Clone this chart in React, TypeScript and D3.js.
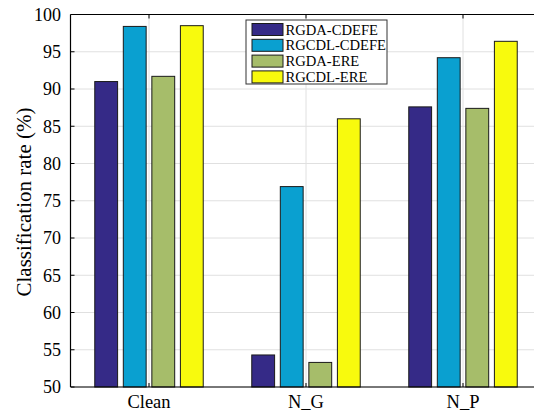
import React from "react";
import * as d3 from "d3";

const categories = ["Clean", "N_G", "N_P"];
const seriesNames = ["RGDA-CDEFE", "RGCDL-CDEFE", "RGDA-ERE", "RGCDL-ERE"];
const seriesColors = ["#352a87", "#0aa0d0", "#a6bd6a", "#f8fa0d"];
const rgdaCdefe = [91.0, 54.3, 87.6];
const rgcdlCdefe = [98.4, 76.9, 94.2];
const rgdaEre = [91.7, 53.3, 87.4];
const rgcdlEre = [98.5, 86.0, 96.4];
const yTicks = [50, 55, 60, 65, 70, 75, 80, 85, 90, 95, 100];

const series = [rgdaCdefe, rgcdlCdefe, rgdaEre, rgcdlEre];

const W = 534;
const H = 415;
const plot = { left: 70.5, right: 541.5, top: 14.5, bottom: 387 };
const font = "'Liberation Serif', 'Times New Roman', serif";

export default function App() {
  // categories sit at 1..n on a continuous axis spanning [0.5, n + 0.5]
  const x = d3.scaleLinear().domain([0.5, categories.length + 0.5]).range([plot.left, plot.right]);
  const y = d3.scaleLinear().domain([50, 100]).range([plot.bottom, plot.top]);

  const nSeries = series.length;
  const groupWidth = Math.min(0.8, nSeries / (nSeries + 1.5));
  const step = groupWidth / nSeries;
  const barWidth = step * 0.8;

  const legend = { x: 246, y: 20, w: 141, h: 64 };

  return (
    <svg
      width={W}
      height={H}
      style={{ position: "absolute", left: 0, top: 0, background: "#fff" }}
      fontFamily={font}
    >
      <defs>
        <clipPath id="plotClip">
          <rect x={plot.left} y={plot.top - 1} width={W - plot.left} height={plot.bottom - plot.top + 2} />
        </clipPath>
      </defs>
      <g clipPath="url(#plotClip)">
        {yTicks.map((t) => (
          <line key={"gy" + t} x1={plot.left} x2={plot.right} y1={y(t)} y2={y(t)} stroke="#e0e0e0" strokeWidth={1} />
        ))}
        {categories.map((c, i) => (
          <line key={"gx" + c} x1={x(i + 1)} x2={x(i + 1)} y1={plot.top} y2={plot.bottom} stroke="#e0e0e0" strokeWidth={1} />
        ))}
        {series.map((vals, s) =>
          vals.map((v, i) => {
            const cx = i + 1 - groupWidth / 2 + step * (s + 0.5);
            const x0 = x(cx - barWidth / 2);
            const x1 = x(cx + barWidth / 2);
            return (
              <rect
                key={`b${s}-${i}`}
                x={x0}
                y={y(v)}
                width={x1 - x0}
                height={y(50) - y(v)}
                fill={seriesColors[s]}
                stroke="#1a1a1a"
                strokeWidth={1}
              />
            );
          })
        )}
        {yTicks.map((t) => (
          <line key={"ty" + t} x1={plot.left} x2={plot.left + 4} y1={y(t)} y2={y(t)} stroke="#000" />
        ))}
        {categories.map((c, i) => (
          <g key={"tx" + c}>
            <line x1={x(i + 1)} x2={x(i + 1)} y1={plot.bottom} y2={plot.bottom - 4} stroke="#000" />
            <line x1={x(i + 1)} x2={x(i + 1)} y1={plot.top} y2={plot.top + 4} stroke="#000" />
          </g>
        ))}
      </g>
      {/* axes frame */}
      <line x1={plot.left} x2={W} y1={plot.top} y2={plot.top} stroke="#000" strokeWidth={1.2} />
      <line x1={plot.left} x2={W} y1={plot.bottom} y2={plot.bottom} stroke="#000" strokeWidth={1.2} />
      <line x1={plot.left} x2={plot.left} y1={plot.top} y2={plot.bottom} stroke="#000" strokeWidth={1.2} />

      {yTicks.map((t) => (
        <text key={"ly" + t} x={plot.left - 9.5} y={y(t)} dy="0.35em" textAnchor="end" fontSize={18} fill="#000">
          {t}
        </text>
      ))}
      {categories.map((c, i) => (
        <text key={"lx" + c} x={x(i + 1)} y={plot.bottom + 21} textAnchor="middle" fontSize={18.5} fill="#000">
          {c}
        </text>
      ))}
      <text
        transform={`translate(${31},${202}) rotate(-90)`}
        textAnchor="middle"
        fontSize={21}
        fill="#000"
      >
        Classification rate (%)
      </text>

      <g>
        <rect x={legend.x} y={legend.y} width={legend.w} height={legend.h} fill="#fff" stroke="#333" strokeWidth={1} />
        {seriesNames.map((n, s) => {
          const cy = legend.y + 9.5 + s * 15.8;
          return (
            <g key={"lg" + n}>
              <rect x={legend.x + 6} y={cy - 6} width={31} height={12} fill={seriesColors[s]} stroke="#1a1a1a" strokeWidth={1} />
              <text x={legend.x + 39.5} y={cy} dy="0.35em" fontSize={14.6} fill="#000">
                {n}
              </text>
            </g>
          );
        })}
      </g>
    </svg>
  );
}
